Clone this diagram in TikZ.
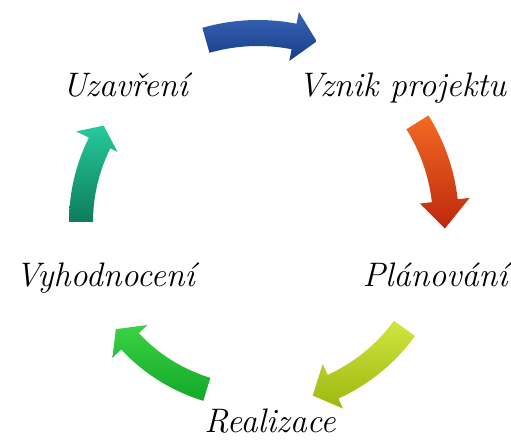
\documentclass[tikz,border=0pt]{standalone}
\usetikzlibrary{calc}
\definecolor{modraSvetla}{HTML}{3765B8}
\definecolor{modra}{HTML}{1A3D85}
\definecolor{oranzova}{HTML}{F26A22}
\definecolor{cervena}{HTML}{BE280E}
\definecolor{zlutozelenaSvetla}{HTML}{D0E640}
\definecolor{zlutozelena}{HTML}{9CB810}
\definecolor{zelenaSvetla}{HTML}{3CD244}
\definecolor{zelena}{HTML}{12A82A}
\definecolor{tyrkysovaSvetla}{HTML}{26CA9C}
\definecolor{tyrkysova}{HTML}{0E7C5C}

\begin{document}
\begin{tikzpicture}[x=1pt, y=1pt,
		popisek/.style={anchor=base, inner sep=0pt, font=\fontsize{34}{40}\selectfont\itshape}]
	\useasboundingbox (0,0) rectangle (511,439);
	\coordinate (stred) at (258,217);

	\node[popisek] (vznik) at (402,342) {Vznik projektu};
	\node[popisek] (planovani) at (435,152) {Plánování};
	\node[popisek] (realizace) at (270,7) {Realizace};
	\node[popisek] (vyhodnoceni) at (105,152) {Vyhodnocení};
	\node[popisek] (uzavreni) at (125,342) {Uzavření};

	% sipky kolem kruhu
	\shade[top color=modraSvetla, bottom color=modra]
		($(stred)+(106:202)$) arc[start angle=106, end angle=79, radius=202]
		-- ($(stred)+(79:214)$) -- ($(stred)+(72:190)$) -- ($(stred)+(79:164)$)
		-- ($(stred)+(79:176)$) arc[start angle=79, end angle=106, radius=176] -- cycle;
	\shade[top color=oranzova, bottom color=cervena]
		($(stred)+(32:201)$) arc[start angle=32, end angle=6.5, radius=201]
		-- ($(stred)+(6.5:213)$) -- ($(stred)+(-2:187)$) -- ($(stred)+(6.5:163)$)
		-- ($(stred)+(6.5:175)$) arc[start angle=6.5, end angle=32, radius=175] -- cycle;
	\shade[top color=zlutozelenaSvetla, bottom color=zlutozelena]
		($(stred)+(-36:194)$) arc[start angle=-36, end angle=-65.5, radius=194]
		-- ($(stred)+(-65.5:205)$) -- ($(stred)+(-72.5:182)$) -- ($(stred)+(-65.5:156)$)
		-- ($(stred)+(-65.5:168)$) arc[start angle=-65.5, end angle=-36, radius=168] -- cycle;
	\shade[top color=zelenaSvetla, bottom color=zelena]
		($(stred)+(-107:187)$) arc[start angle=-107, end angle=-137, radius=187]
		-- ($(stred)+(-137:199)$) -- ($(stred)+(-143:178)$) -- ($(stred)+(-137:151)$)
		-- ($(stred)+(-137:163)$) arc[start angle=-137, end angle=-107, radius=163] -- cycle;
	\shade[top color=tyrkysovaSvetla, bottom color=tyrkysova]
		($(stred)+(180:189)$) arc[start angle=180, end angle=153.5, radius=189]
		-- ($(stred)+(153.5:203)$) -- ($(stred)+(148:182)$) -- ($(stred)+(153.5:157)$)
		-- ($(stred)+(153.5:165)$) arc[start angle=153.5, end angle=180, radius=165] -- cycle;
\end{tikzpicture}
\end{document}
